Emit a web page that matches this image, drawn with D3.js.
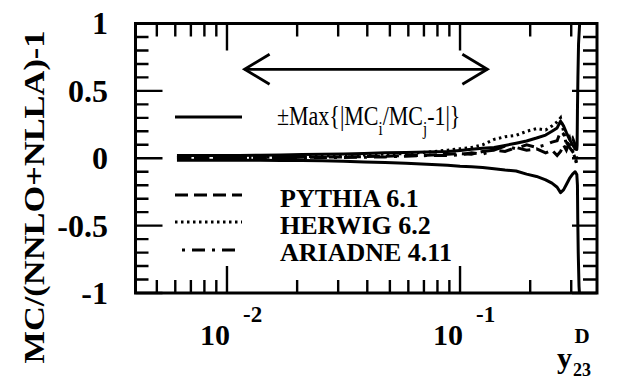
<!DOCTYPE html>
<html>
<head>
<meta charset="utf-8">
<script src="https://cdn.jsdelivr.net/npm/d3@7/dist/d3.min.js"></script>
<style>
  html, body { margin: 0; padding: 0; background: #fff; }
  svg { display: block; }
</style>
</head>
<body>
<svg id="chart" width="619" height="382"></svg>
<script>
// y23 bin centres shared by the generator curves and the envelope
const y23Bins = [0.0061, 0.0075, 0.0092, 0.0113, 0.0139, 0.0170, 0.0210, 0.0257, 0.0316, 0.0388,
                 0.0477, 0.0586, 0.0720, 0.0884, 0.1000, 0.1120, 0.1250, 0.1400, 0.1560, 0.1740,
                 0.1930, 0.2130, 0.2330, 0.2480, 0.2610, 0.2700, 0.2780, 0.2860, 0.2950, 0.3040,
                 0.3120, 0.3170];

// +/- Max{|MC_i/MC_j - 1|} envelope
const maxUpper = [0.020, 0.020, 0.020, 0.021, 0.022, 0.024, 0.027, 0.030, 0.032, 0.035,
                  0.040, 0.043, 0.047, 0.050, 0.058, 0.066, 0.075, 0.080, 0.095, 0.112,
                  0.128, 0.150, 0.172, 0.200, 0.225, 0.275, 0.240, 0.190, 0.140, 0.100,
                  0.070, 0.065];
const maxLower = [-0.014, -0.014, -0.014, -0.015, -0.015, -0.016, -0.017, -0.019, -0.022, -0.027,
                  -0.032, -0.038, -0.045, -0.052, -0.060, -0.063, -0.068, -0.078, -0.088, -0.095,
                  -0.118, -0.135, -0.160, -0.185, -0.215, -0.255, -0.235, -0.195, -0.150, -0.118,
                  -0.100, -0.120];

// envelope blowing up at the kinematic limit
const upperTailX = [0.3180, 0.3190, 0.3205, 0.3225, 0.3260, 0.3300];
const upperTail  = [0.10, 0.35, 0.60, 0.85, 1.00, 1.10];
const lowerTailX = [0.3190, 0.3200, 0.3215, 0.3240, 0.3280];
const lowerTail  = [-0.20, -0.45, -0.70, -0.95, -1.10];

// MC / (NNLO+NLLA) - 1 for each generator
const pythia  = [0.004, 0.004, 0.004, 0.005, 0.005, 0.006, 0.007, 0.008, 0.010, 0.012,
                 0.015, 0.020, 0.022, 0.030, 0.035, 0.030, 0.050, 0.060, 0.050, 0.080,
                 0.060, 0.070, 0.040, 0.060, 0.020, 0.050, 0.100, 0.060, 0.120, 0.150,
                 0.100, 0.000];
const herwig  = [0.004, 0.004, 0.005, 0.005, 0.006, 0.008, 0.012, 0.015, 0.020, 0.025,
                 0.030, 0.035, 0.045, 0.060, 0.070, 0.080, 0.100, 0.140, 0.160, 0.170,
                 0.200, 0.220, 0.210, 0.240, 0.270, 0.300, 0.200, 0.100, 0.150, 0.050,
                 0.000, -0.050];
const ariadne = [0.004, 0.004, 0.004, 0.004, 0.005, 0.005, 0.005, 0.006, 0.006, 0.008,
                 0.010, 0.015, 0.020, 0.020, 0.025, 0.040, 0.030, 0.060, 0.090, 0.070,
                 0.100, 0.080, 0.100, 0.120, 0.130, 0.200, 0.180, 0.120, 0.080, 0.050,
                 0.020, -0.050];

const legendNames = ["PYTHIA 6.1", "HERWIG 6.2", "ARIADNE 4.11"];
const dashStyles = ["13,6", "2.5,3.5", "13,7,3,7"];
const dashOffsets = [0, 0, 13];

// axis ticks
const xMajor = [0.01, 0.1];
const xMinor = [0.005, 0.006, 0.007, 0.008, 0.009, 0.02, 0.03, 0.04, 0.05, 0.06, 0.07, 0.08, 0.09, 0.2, 0.3];
const yMajor = [-1, -0.5, 0, 0.5, 1];
const yMinor = [-0.9, -0.8, -0.7, -0.6, -0.4, -0.3, -0.2, -0.1, 0.1, 0.2, 0.3, 0.4, 0.6, 0.7, 0.8, 0.9];
const xTickLabels = [{v: 0.01, base: "10", exp: "-2"}, {v: 0.1, base: "10", exp: "-1"}];
const yLabelText = {"-1": "-1", "-0.5": "-0.5", "0": "0", "0.5": "0.5", "1": "1"};

// range of the double-headed arrow
const arrowRange = [0.0119, 0.131];
const arrowLevel = 0.66;

const FONT = "Liberation Serif, Times New Roman, serif";
const svg = d3.select("#chart");
const L = 135.5, R = 597, T = 23.5, B = 293;

const x = d3.scaleLog().domain([0.00405, 0.387]).range([L, R]);
const y = d3.scaleLinear().domain([-1, 1]).range([B, T]);

svg.append("defs").append("clipPath").attr("id", "plotclip")
  .append("rect").attr("x", L).attr("y", T).attr("width", R - L).attr("height", B - T);

const plot = svg.append("g").attr("clip-path", "url(#plotclip)");
const curve = d3.line().x(d => x(d[0])).y(d => y(d[1]));

// envelope lines
const upperPts = y23Bins.map((v, k) => [v, maxUpper[k]]).concat(upperTailX.map((v, k) => [v, upperTail[k]]));
const lowerPts = y23Bins.map((v, k) => [v, maxLower[k]]).concat(lowerTailX.map((v, k) => [v, lowerTail[k]]));
[upperPts, lowerPts].forEach(pts => {
  plot.append("path").datum(pts).attr("d", curve)
    .attr("fill", "none").attr("stroke", "#000").attr("stroke-width", 3)
    .attr("stroke-linejoin", "round");
});

// generator curves
[pythia, herwig, ariadne].forEach((vals, i) => {
  plot.append("path")
    .datum(y23Bins.map((v, k) => [v, vals[k]]))
    .attr("d", curve)
    .attr("fill", "none")
    .attr("stroke", "#000")
    .attr("stroke-width", 3)
    .attr("stroke-dasharray", dashStyles[i])
    .attr("stroke-dashoffset", dashOffsets[i]);
});

// y tick labels
yMajor.forEach(v => {
  svg.append("text").attr("x", L - 27.5).attr("y", y(v)).attr("dy", "0.34em")
    .attr("text-anchor", "end").attr("font-family", FONT)
    .attr("font-size", 32).attr("font-weight", "bold").text(yLabelText[String(v)]);
});

// x tick labels: 10^n
xTickLabels.forEach(t => {
  const tx = svg.append("text").attr("x", x(t.v) - 27).attr("y", 345)
    .attr("font-family", FONT).attr("font-size", 30).attr("font-weight", "bold");
  tx.append("tspan").text(t.base);
  tx.append("tspan").attr("dx", 13).attr("dy", -23).attr("font-size", 23).text(t.exp);
});

// x axis title: y_23^D
svg.append("text").attr("x", 582).attr("y", 343).attr("text-anchor", "middle")
  .attr("font-family", FONT).attr("font-size", 21).attr("font-weight", "bold").text("D");
const xt = svg.append("text").attr("x", 557).attr("y", 368)
  .attr("font-family", FONT).attr("font-size", 30).attr("font-weight", "bold");
xt.append("tspan").text("y");
xt.append("tspan").attr("dy", 8).attr("dx", 1).attr("font-size", 18).text("23");

// y axis title
svg.append("text").attr("transform", "translate(44,197) rotate(-90)")
  .attr("text-anchor", "middle").attr("font-family", FONT).attr("font-size", 29).attr("font-weight", "bold")
  .attr("textLength", 333).attr("lengthAdjust", "spacingAndGlyphs")
  .text("MC/(NNLO+NLLA)-1");

// double-headed arrow
const ay = y(arrowLevel), ax0 = x(arrowRange[0]), ax1 = x(arrowRange[1]);
const arrow = svg.append("g").attr("fill", "none").attr("stroke", "#000").attr("stroke-width", 2.8)
  .attr("stroke-linejoin", "miter");
arrow.append("line").attr("x1", ax0).attr("x2", ax1).attr("y1", ay).attr("y2", ay);
arrow.append("path").attr("d", `M${ax0 + 25},${ay - 15}L${ax0},${ay}L${ax0 + 25},${ay + 15}`);
arrow.append("path").attr("d", `M${ax1 - 25},${ay - 15}L${ax1},${ay}L${ax1 - 25},${ay + 15}`);

// legend
svg.append("line").attr("x1", 175).attr("x2", 242).attr("y1", 117).attr("y2", 117)
  .attr("stroke", "#000").attr("stroke-width", 3.2);
const lt = svg.append("text").attr("transform", "translate(277,125) scale(1,1.22)")
  .attr("font-family", FONT).attr("font-size", 22);
lt.append("tspan").text("\u00B1Max{|MC");
lt.append("tspan").attr("dy", 8).attr("font-size", 15).text("i");
lt.append("tspan").attr("dy", -8).text("/MC");
lt.append("tspan").attr("dy", 8).attr("font-size", 15).text("j");
lt.append("tspan").attr("dy", -8).text("-1|}");

const legendY = [195, 222, 250];
const legendBase = [207, 234, 261];
legendNames.forEach((name, i) => {
  svg.append("line").attr("x1", 175).attr("x2", 242).attr("y1", legendY[i]).attr("y2", legendY[i])
    .attr("stroke", "#000").attr("stroke-width", 3.2)
    .attr("stroke-dasharray", dashStyles[i]).attr("stroke-dashoffset", dashOffsets[i]);
  svg.append("text").attr("x", 280).attr("y", legendBase[i]).attr("font-family", FONT)
    .attr("font-size", 26).attr("font-weight", "bold").text(name);
});

// frame
svg.append("rect").attr("x", L).attr("y", T).attr("width", R - L).attr("height", B - T)
  .attr("fill", "none").attr("stroke", "#000").attr("stroke-width", 3);

// inward ticks on all four sides, drawn as one stroked path from the scales
let tp = "";
xMinor.forEach(v => { const px = x(v); tp += `M${px},${B}V${B - 13}M${px},${T}V${T + 13}`; });
xMajor.forEach(v => { const px = x(v); tp += `M${px},${B}V${B - 27}M${px},${T}V${T + 27}`; });
yMinor.forEach(v => { const py = y(v); tp += `M${L},${py}H${L + 13}M${R},${py}H${R - 14}`; });
yMajor.forEach(v => { const py = y(v); tp += `M${L},${py}H${L + 27}M${R},${py}H${R - 25}`; });
svg.append("path").attr("d", tp).attr("fill", "none").attr("stroke", "#000").attr("stroke-width", 2.4);
</script>
</body>
</html>
